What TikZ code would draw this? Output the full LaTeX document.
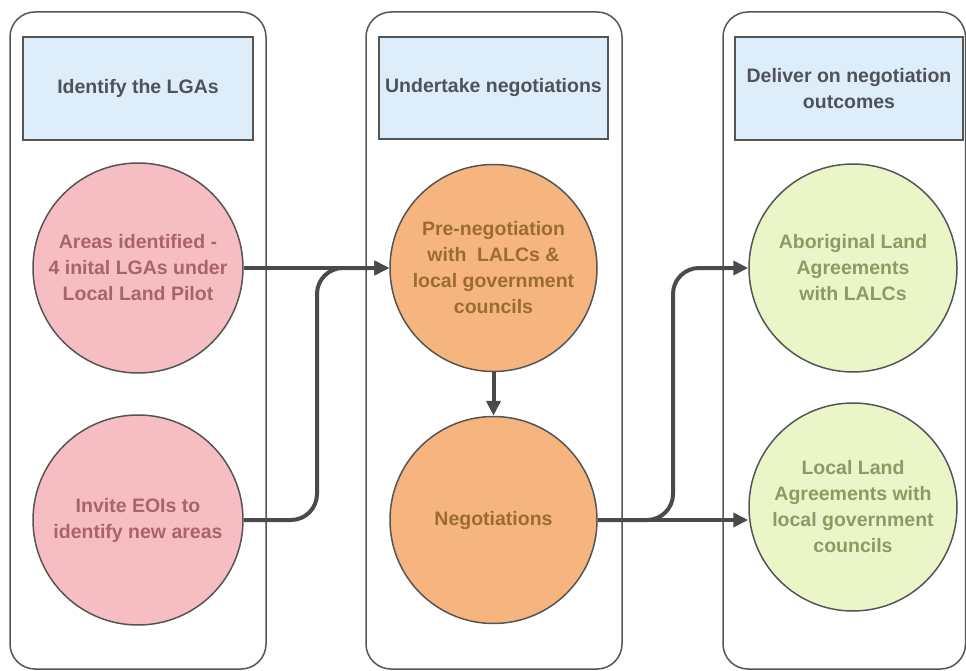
\documentclass[tikz,border=0pt]{standalone}
\usepackage{fontspec}
\setmainfont{Liberation Sans}
\usetikzlibrary{arrows.meta}
\definecolor{lanec}{HTML}{555555}
\definecolor{headfill}{HTML}{DDEEFA}
\definecolor{headtext}{HTML}{4F5258}
\definecolor{pinkfill}{HTML}{F6BEC2}
\definecolor{pinktext}{HTML}{A8646C}
\definecolor{orangefill}{HTML}{F6B47E}
\definecolor{orangetext}{HTML}{9C6B34}
\definecolor{greenfill}{HTML}{EBF6C8}
\definecolor{greentext}{HTML}{8E9A62}
\definecolor{arrc}{HTML}{4A4A4A}
\tikzset{
  lane/.style={draw=lanec, line width=1.5pt, fill=white, rounded corners=25pt},
  header/.style={draw=lanec, line width=2.2pt, fill=headfill, text=headtext, align=center,
    font=\fontsize{19.5}{26}\selectfont\bfseries, inner sep=0pt},
  stage/.style={circle, draw=lanec, line width=1.5pt, minimum size=#1, inner sep=0pt, align=center,
    font=\fontsize{19.5}{26}\selectfont\bfseries},
  pinkc/.style={stage=210pt, fill=pinkfill, text=pinktext},
  orangec/.style={stage=207pt, fill=orangefill, text=orangetext},
  greenc/.style={stage=208pt, fill=greenfill, text=greentext},
  arr/.style={draw=arrc, line width=4pt, -{Triangle[length=15pt,width=14pt]}},
}
\begin{document}
\begin{tikzpicture}[x=1pt,y=-1pt]
\useasboundingbox (0,0) rectangle (966,671);
% lanes
\path[lane] (10,12) rectangle (266,669);
\path[lane] (366,12) rectangle (622,669);
\path[lane] (723,12) rectangle (965.5,669);
% headers
\node[header, minimum width=230pt, minimum height=103pt] (h1) at (138,88.5) {Identify the LGAs};
\node[header, minimum width=229pt, minimum height=102pt] (h2) at (493.5,88) {Undertake negotiations};
\node[header, minimum width=228pt, minimum height=103pt] (h3) at (849,88.5) {Deliver on negotiation\\outcomes};
% circles
\node[pinkc] (p1) at (138,268) {Areas identified -\\4 inital LGAs under\\Local Land Pilot};
\node[pinkc] (p2) at (138,520) {Invite EOIs to\\identify new areas};
\node[orangec] (o1) at (493.5,268) {Pre-negotiation\\with~ LALCs \&\\local government\\councils};
\node[orangec] (o2) at (493.5,520) {Negotiations};
\node[greenc] (g1) at (853,268) {Aboriginal Land\\Agreements\\with LALCs};
\node[greenc] (g2) at (853,507) {Local Land\\Agreements with\\local government\\councils};
% connector helpers
\coordinate (j1) at (317,0);
\coordinate (j2) at (673,0);
% connectors
\draw[arr] (p1.east) -- (o1.west);
\draw[arr, rounded corners=26pt] (p2.east) -| (j1 |- o1.west) -- (o1.west);
\draw[arr] (o1.south) -- (o2.north);
\draw[arr] (o2.east) -- (o2.east -| g2.west);
\draw[arr, rounded corners=26pt] (o2.east) -| (j2 |- g1.west) -- (g1.west);
\end{tikzpicture}
\end{document}
